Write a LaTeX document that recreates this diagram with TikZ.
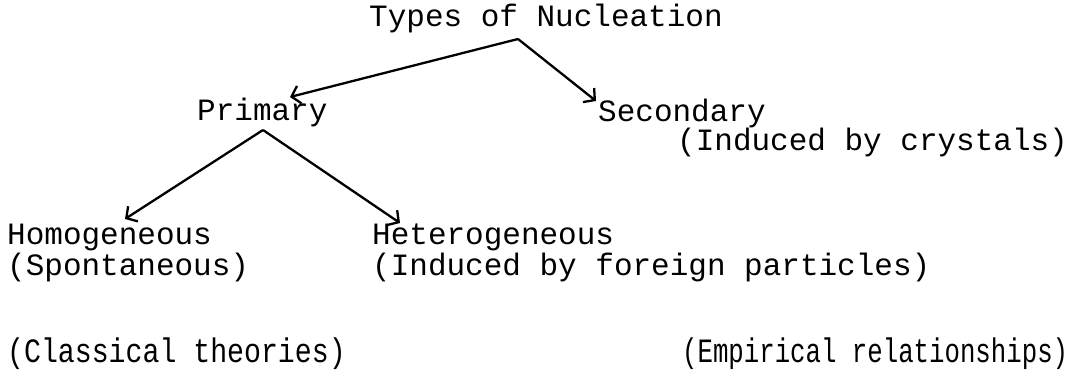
\documentclass[tikz,border=0pt]{standalone}
\usepackage{fontspec}
\setmonofont{Liberation Mono}
\usetikzlibrary{arrows.meta}
\begin{document}
\begin{tikzpicture}[x=1pt,y=-1pt,
  lbl/.style={anchor=base west,inner sep=0pt,font=\ttfamily\fontsize{31}{31}\selectfont},
  lblc/.style={anchor=base west,inner sep=0pt,font=\ttfamily\fontsize{31}{31}\selectfont,yscale=1.1},
  arr/.style={line width=2.3pt,-{Straight Barb[length=8pt,width=18pt,line width=2.3pt]}}]
\useasboundingbox[fill=white] (0,0) rectangle (1078,382);
\node[lbl] (title) at (369,27) {Types of Nucleation};
\node[lbl] (primary) at (197,121) {Primary};
\node[lbl] (secondary) at (598,122) {Secondary};
\node[lbl] (crystals) at (677,151) {(Induced by crystals)};
\node[lbl] (homo) at (7,244) {Homogeneous};
\node[lbl] (spont) at (7,275) {(Spontaneous)};
\node[lbl] (hetero) at (372,244) {Heterogeneous};
\node[lbl] (foreign) at (372,275) {(Induced by foreign particles)};
\node[lblc,xscale=0.91] (classical) at (7,362) {(Classical theories)};
\node[lblc,xscale=0.83] (empirical) at (682,362) {(Empirical relationships)};
\coordinate (tapex) at (518,39);
\coordinate (ptip) at (290,97);
\coordinate (stip) at (596,101);
\coordinate (papex) at (263,130);
\coordinate (hotip) at (125,219);
\coordinate (hetip) at (400,223);
\draw[arr] (tapex) -- (ptip);
\draw[arr] (tapex) -- (stip);
\draw[arr] (papex) -- (hotip);
\draw[arr] (papex) -- (hetip);
\end{tikzpicture}
\end{document}
